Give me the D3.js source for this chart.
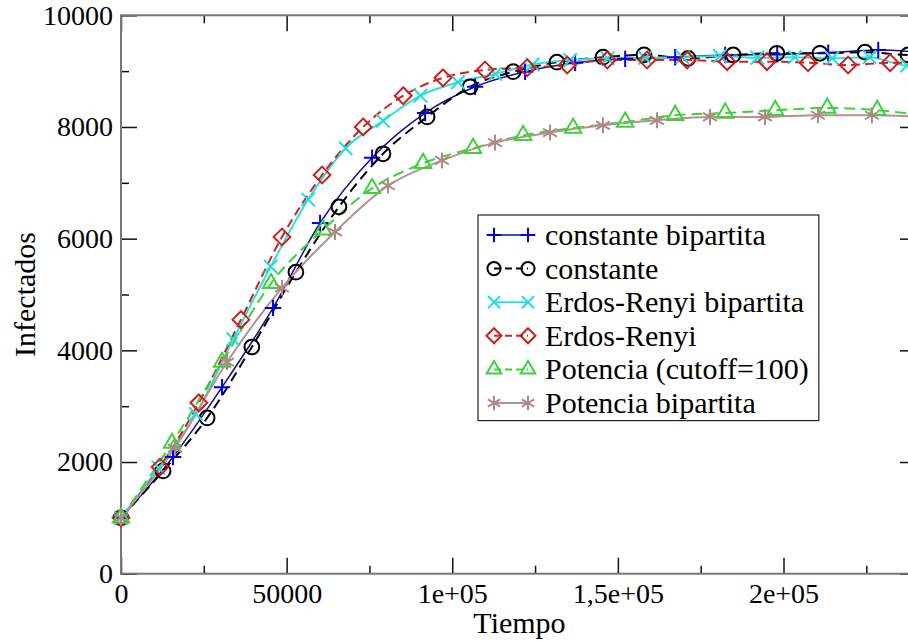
<!DOCTYPE html>
<html>
<head>
<meta charset="utf-8">
<script src="https://cdn.jsdelivr.net/npm/d3@7"></script>
<style>
  body { margin: 0; background: #fff; }
  svg { display: block; font-family: "Liberation Serif", "Times New Roman", serif; }
</style>
</head>
<body>
<script>
// series data (time, infected)
var constBipTime = [0, 15700, 30500, 45900, 60100, 75800, 91800, 106900, 122000, 137100, 152200, 167300, 182400, 198100, 213500, 228600, 243700];
var constBipVal  = [1000, 2090, 3340, 4760, 6280, 7450, 8250, 8720, 8990, 9150, 9220, 9250, 9290, 9300, 9330, 9380, 9330];

var constTime = [0, 12700, 26000, 39500, 52800, 65800, 79100, 92400, 105400, 118400, 131600, 145500, 157900, 171200, 184800, 198000, 211000, 224600, 237600, 250900];
var constVal  = [1000, 1840, 2790, 4060, 5400, 6570, 7520, 8180, 8720, 8990, 9160, 9250, 9290, 9230, 9290, 9320, 9320, 9340, 9290, 9300];

var erBipTime = [0, 11300, 22600, 33900, 45200, 56500, 67800, 79100, 90400, 101700, 113000, 124300, 135600, 146900, 158200, 169500, 180800, 192100, 203400, 214700, 226000, 237300, 248600];
var erBipVal  = [1000, 1900, 2860, 4200, 5500, 6700, 7620, 8110, 8560, 8800, 8950, 9120, 9200, 9230, 9240, 9250, 9270, 9240, 9250, 9230, 9250, 9100, 9100];

var erTime = [0, 11800, 23500, 36200, 48600, 60700, 73100, 85200, 97200, 109900, 122600, 134700, 146800, 158800, 170900, 183000, 195000, 207400, 219500, 232200, 244300];
var erVal  = [1000, 1910, 3060, 4550, 6030, 7140, 8000, 8560, 8880, 9020, 9060, 9110, 9200, 9200, 9200, 9170, 9170, 9150, 9110, 9150, 9150];

var potTime = [0, 15400, 30500, 45300, 61000, 75800, 91200, 106300, 121400, 136500, 152200, 167300, 182400, 197500, 213200, 228300, 243400];
var potVal  = [1000, 2340, 3790, 5200, 6160, 6900, 7350, 7620, 7850, 7980, 8090, 8210, 8250, 8300, 8340, 8300, 8200];

var potBipTime = [0, 16300, 32000, 48600, 64600, 80600, 96900, 112900, 129500, 145500, 161800, 177800, 194400, 210400, 226700, 242800];
var potBipVal  = [1000, 2250, 3790, 5120, 6120, 6950, 7400, 7720, 7900, 8030, 8120, 8180, 8180, 8210, 8210, 8180];

var seriesNames = ["constante bipartita", "constante", "Erdos-Renyi bipartita", "Erdos-Renyi", "Potencia (cutoff=100)", "Potencia bipartita"];

var xTickValues = [0, 50000, 100000, 150000, 200000];
var xTickLabels = ["0", "50000", "1e+05", "1,5e+05", "2e+05"];
var yTickValues = [0, 2000, 4000, 6000, 8000, 10000];
var yTickLabels = ["0", "2000", "4000", "6000", "8000", "10000"];

var width = 908, height = 643;
var plotLeft = 121, plotRight = 916, plotTop = 15.3, plotBottom = 573.7;

var svg = d3.select("body").append("svg")
  .attr("width", width)
  .attr("height", height);

var x = d3.scaleLinear().domain([0, 240000]).range([plotLeft, plotRight]);
var y = d3.scaleLinear().domain([0, 10000]).range([plotBottom, plotTop]);

// styles per series
var styles = [
  {line: "#10108f", mark: "#0000f0", dash: null, sym: d3.symbolPlus, size: 90, lw: 1.5},
  {line: "#000000", mark: "#000000", dash: "10,6", sym: d3.symbolCircle, size: 170, lw: 2},
  {line: "#30dede", mark: "#22dede", dash: null, sym: d3.symbolTimes, size: 120, lw: 2},
  {line: "#d42020", mark: "#cc2020", dash: "9,5", sym: d3.symbolDiamond2, size: 180, lw: 2},
  {line: "#3ad43a", mark: "#3ad43a", dash: "11,6", sym: d3.symbolTriangle2, size: 190, lw: 2},
  {line: "#b89090", mark: "#b08888", dash: null, sym: d3.symbolAsterisk, size: 180, lw: 2}
];

var allSeries = [
  [constBipTime, constBipVal],
  [constTime, constVal],
  [erBipTime, erBipVal],
  [erTime, erVal],
  [potTime, potVal],
  [potBipTime, potBipVal]
].map(function(s, i) {
  return {
    name: seriesNames[i],
    style: styles[i],
    points: s[0].map(function(t, j) { return [t, s[1][j]]; })
  };
});

// axes: major and minor ticks on all four sides, pointing inwards
function tickAxis(axis, vals, len) {
  return axis.tickValues(vals).tickSizeInner(-len).tickSizeOuter(0).tickFormat("");
}
var xMinor = [25000, 75000, 125000, 175000, 225000];
var yMinor = [1000, 3000, 5000, 7000, 9000];

svg.append("g").attr("transform", "translate(0," + plotBottom + ")")
  .call(d3.axisBottom(x).tickValues(xTickValues).tickSizeInner(-16).tickSizeOuter(0)
    .tickPadding(9).tickFormat(function(d, i) { return xTickLabels[i]; }));
svg.append("g").attr("transform", "translate(0," + plotBottom + ")").call(tickAxis(d3.axisBottom(x), xMinor, 8));
svg.append("g").attr("transform", "translate(0," + plotTop + ")").call(tickAxis(d3.axisTop(x), xTickValues, 16));
svg.append("g").attr("transform", "translate(0," + plotTop + ")").call(tickAxis(d3.axisTop(x), xMinor, 8));

svg.append("g").attr("transform", "translate(" + plotLeft + ",0)")
  .call(d3.axisLeft(y).tickValues(yTickValues).tickSizeInner(-16).tickSizeOuter(0)
    .tickPadding(8).tickFormat(function(d, i) { return yTickLabels[i]; }));
svg.append("g").attr("transform", "translate(" + plotLeft + ",0)").call(tickAxis(d3.axisLeft(y), yMinor, 8));
svg.append("g").attr("transform", "translate(" + plotRight + ",0)").call(tickAxis(d3.axisRight(y), yTickValues, 16));
svg.append("g").attr("transform", "translate(" + plotRight + ",0)").call(tickAxis(d3.axisRight(y), yMinor, 8));

svg.selectAll(".domain").remove();
svg.selectAll(".tick line").attr("stroke", "#111").attr("stroke-width", 1.5);
svg.selectAll(".tick text").attr("fill", "#000").attr("font-size", 28)
  .attr("font-family", "Liberation Serif, serif");

// frame
svg.append("rect")
  .attr("x", plotLeft).attr("y", plotTop)
  .attr("width", plotRight - plotLeft).attr("height", plotBottom - plotTop)
  .attr("fill", "none").attr("stroke", "#777").attr("stroke-width", 2);

// lines
var line = d3.line()
  .x(function(d) { return x(d[0]); })
  .y(function(d) { return y(d[1]); })
  .curve(d3.curveMonotoneX);

svg.append("g").selectAll("path")
  .data(allSeries)
  .enter()
  .append("path")
  .attr("d", function(s) { return line(s.points); })
  .attr("fill", "none")
  .attr("stroke", function(s) { return s.style.line; })
  .attr("stroke-width", function(s) { return s.style.lw; })
  .attr("stroke-dasharray", function(s) { return s.style.dash; });

// markers
allSeries.forEach(function(s) {
  svg.append("g").selectAll("path")
    .data(s.points)
    .enter()
    .append("path")
    .attr("transform", function(d) { return "translate(" + x(d[0]) + "," + y(d[1]) + ")"; })
    .attr("d", d3.symbol().type(s.style.sym).size(s.style.size))
    .attr("fill", "none")
    .attr("stroke", s.style.mark)
    .attr("stroke-width", 2);
});

// axis titles
svg.append("text")
  .attr("x", (plotLeft + plotRight) / 2 + 1).attr("y", 633)
  .attr("text-anchor", "middle")
  .attr("font-size", 30)
  .text("Tiempo");

svg.append("text")
  .attr("transform", "translate(35," + ((plotTop + plotBottom) / 2) + ") rotate(-90)")
  .attr("text-anchor", "middle")
  .attr("font-size", 30)
  .text("Infectados");

// legend
var legX = 478, legY = 215, rowH = 33.6;
var leg = svg.append("g");
var legBox = leg.append("rect")
  .attr("x", legX).attr("y", legY)
  .attr("height", rowH * 6 + 4)
  .attr("fill", "#fff").attr("stroke", "#222").attr("stroke-width", 1.2);

var rows = leg.selectAll("g.row")
  .data(allSeries)
  .enter()
  .append("g")
  .attr("class", "row")
  .attr("transform", function(s, i) { return "translate(0," + (legY + 20 + i * rowH) + ")"; });

rows.append("line")
  .attr("x1", 494).attr("x2", 528)
  .attr("stroke", function(s) { return s.style.line; })
  .attr("stroke-width", function(s) { return s.style.lw; })
  .attr("stroke-dasharray", function(s) { return s.style.dash ? "7,4" : null; });

[494, 528].forEach(function(px) {
  rows.append("path")
    .attr("transform", "translate(" + px + ",0)")
    .attr("d", function(s) { return d3.symbol().type(s.style.sym).size(s.style.size * 0.8)(); })
    .attr("fill", "none")
    .attr("stroke", function(s) { return s.style.mark; })
    .attr("stroke-width", 2);
});

var legTexts = rows.append("text")
  .attr("x", 545).attr("y", 10)
  .attr("font-size", 30)
  .text(function(s) { return s.name; });

var maxW = d3.max(legTexts.nodes(), function(n) { return n.getComputedTextLength(); });
legBox.attr("width", 545 + maxW + 10 - legX);
</script>
</body>
</html>
